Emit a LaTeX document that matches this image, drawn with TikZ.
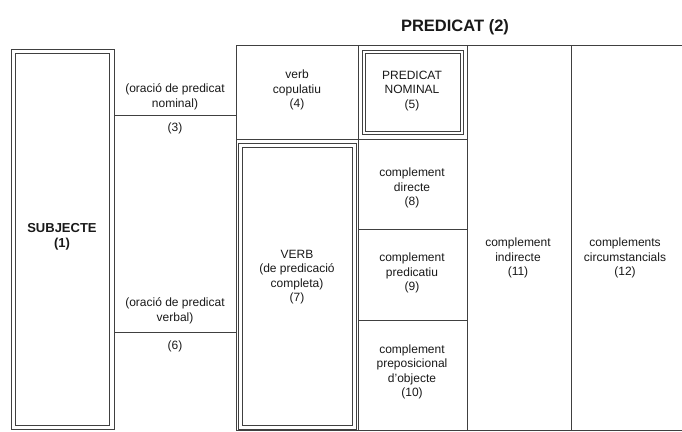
\documentclass[tikz,border=0pt]{standalone}
\usepackage{fontspec}
\setmainfont{Liberation Sans}
\usepackage{xcolor}
\usetikzlibrary{positioning}

\begin{document}
\begin{tikzpicture}[x=1pt, y=-1pt,
    rule/.style={draw=black!75, line width=1pt},
    frame/.style={draw=black!75, line width=0.9pt},
    lbl/.style={align=center, inner sep=0pt, text=black!90, font=\fontsize{12}{14.5}\selectfont},
    head/.style={lbl, font=\fontsize{16.5}{18}\selectfont\bfseries}]
    \useasboundingbox (0,0) rectangle (682,431);

    \draw[frame] (11,49) rectangle (114,429.5);
    \draw[frame] (15.5,53.5) rectangle (109.5,425.5);
    \draw[frame] (238,143) rectangle (356,429.5);
    \draw[frame] (242,147) rectangle (352,425.5);
    \draw[frame] (362,50) rectangle (463,134);
    \draw[frame] (365,53) rectangle (460,131);

    \draw[rule] (236,45) -- (682,45);
    \draw[rule] (236,430) -- (682,430);
    \draw[rule] (236,45) -- (236,430);
    \draw[rule] (358,45) -- (358,430);
    \draw[rule] (467,45) -- (467,430);
    \draw[rule] (571,45) -- (571,430);
    \draw[rule] (114,115) -- (236,115);
    \draw[rule] (114,332) -- (236,332);
    \draw[rule] (236,139) -- (467,139);
    \draw[rule] (358,229) -- (467,229);
    \draw[rule] (358,320) -- (467,320);

    \node[head] (pred) at (455,27) {PREDICAT (2)};
    \node[lbl, font=\fontsize{13}{15}\selectfont\bfseries] (subj) at (62,237) {SUBJECTE\\(1)};
    \node[lbl] (onom) at (175,97) {(oració de predicat\\nominal)};
    \node[lbl] (n3) at (175,128) {(3)};
    \node[lbl] (overb) at (175,311) {(oració de predicat\\verbal)};
    \node[lbl] (n6) at (175,346) {(6)};
    \node[lbl] (cop) at (297,90) {verb\\copulatiu\\(4)};
    \node[lbl] (verb) at (297,277) {VERB\\(de predicació\\completa)\\(7)};
    \node[lbl] (pnom) at (412,91) {PREDICAT\\NOMINAL\\(5)};
    \node[lbl] (cd) at (412,188) {complement\\directe\\(8)};
    \node[lbl] (cpred) at (412,273) {complement\\predicatiu\\(9)};
    \node[lbl] (creg) at (412,372) {complement\\preposicional\\d'objecte\\(10)};
    \node[lbl] (ci) at (518,258) {complement\\indirecte\\(11)};
    \node[lbl] (cc) at (625,258) {complements\\circumstancials\\(12)};
\end{tikzpicture}
\end{document}
